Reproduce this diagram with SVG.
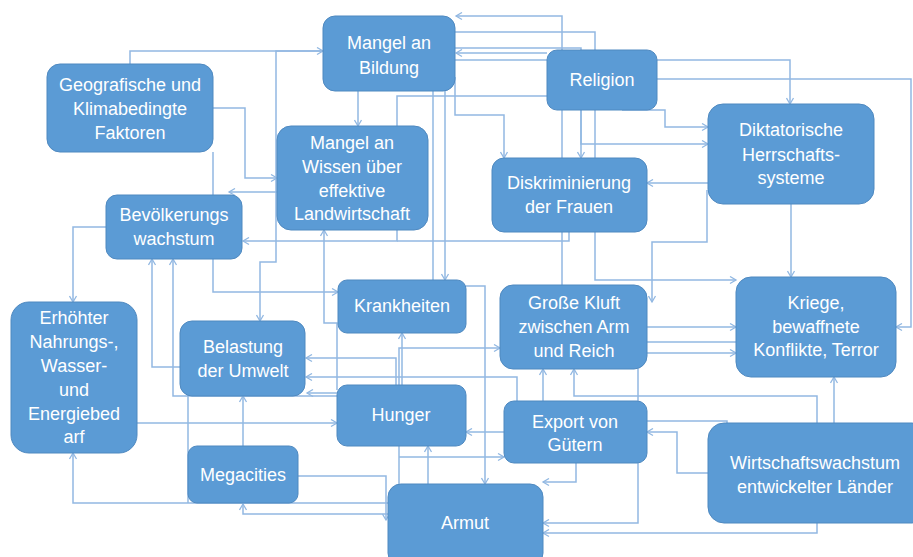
<svg xmlns="http://www.w3.org/2000/svg" width="913" height="557" viewBox="0 0 913 557">
<style>
.n{fill:#5B9BD5;stroke:#4F89C0;stroke-width:1}
.t{font-family:"Liberation Sans",Arial,sans-serif;font-size:18px;fill:#FFFFFF;text-anchor:middle}
.c{fill:none;stroke:#92B8E2;stroke-width:1.5}
.m{marker-end:url(#a)}
</style>
<defs>
<marker id="a" markerWidth="9" markerHeight="9" refX="7" refY="4.5" orient="auto" markerUnits="userSpaceOnUse">
<path d="M1,1 L7,4.5 L1,8" fill="none" stroke="#92B8E2" stroke-width="1.3"/>
</marker>
</defs>
<rect width="913" height="557" fill="#FFFFFF"/>
<g id="connectors">
<path class="c m" d="M130,64 V51 H323"/>
<path class="c m" d="M323,51 H276 V262 H260 V321"/>
<path class="c m" d="M213,108 H245 V178 H277"/>
<path class="c m" d="M213,152 V292 H338"/>
<path class="c m" d="M277,192 H229"/>
<path class="c m" d="M106,227 H73 V302"/>
<path class="c m" d="M337,390 V323 H324 V230"/>
<path class="c m" d="M358,91 V126"/>
<path class="c m" d="M445,91 V280"/>
<path class="c" d="M433,91 V280"/>
<path class="c m" d="M547,96 H397 V241 H243"/>
<path class="c" d="M569,232 V241 H397"/>
<path class="c m" d="M455,77 V115 H504 V158"/>
<path class="c m" d="M547,53 H456"/>
<path class="c" d="M455,60 H547"/>
<path class="c m" d="M455,48 H581 V144 H708"/>
<path class="c m" d="M581,110 V158"/>
<path class="c m" d="M562,285 V16 H456"/>
<path class="c m" d="M455,32 H595 V280 H736"/>
<path class="c m" d="M657,60 H790 V104"/>
<path class="c m" d="M657,79 H911 V327 H896"/>
<path class="c m" d="M622,110 H665 V127 H708"/>
<path class="c m" d="M708,183 H647"/>
<path class="c m" d="M707,190 V242 H652 V302"/>
<path class="c m" d="M791,204 V277"/>
<path class="c m" d="M466,286 H485 V484"/>
<path class="c m" d="M402,385 V333"/>
<path class="c m" d="M399,385 V348 H500"/>
<path class="c m" d="M396,385 V358 H306"/>
<path class="c m" d="M517,401 V377 H306"/>
<path class="c m" d="M337,396 H173 V259"/>
<path class="c m" d="M337,393 H307"/>
<path class="c m" d="M180,367 H152 V259"/>
<path class="c m" d="M137,423 H337"/>
<path class="c m" d="M388,503 H73 V453"/>
<path class="c" d="M188,396 V503"/>
<path class="c m" d="M243,446 V396"/>
<path class="c m" d="M298,476 H386 V520"/>
<path class="c m" d="M388,514 H243 V504"/>
<path class="c m" d="M504,432 H466"/>
<path class="c m" d="M428,484 V446"/>
<path class="c" d="M399,446 V484"/>
<path class="c m" d="M399,457 H504"/>
<path class="c m" d="M576,463 V482 H543"/>
<path class="c m" d="M638,369 V523 H543"/>
<path class="c m" d="M817,523 V533 H543"/>
<path class="c m" d="M543,401 V369"/>
<path class="c m" d="M817,423 V396 H574 V369"/>
<path class="c m" d="M834,423 V377"/>
<path class="c m" d="M708,473 H677 V432 H647"/>
<path class="c" d="M727,423 V421 H647"/>
<path class="c m" d="M647,327 H736"/>
<path class="c" d="M647,342 H736"/>
<path class="c m" d="M647,353 H736"/>
</g>
<g id="bildung"><rect class="n" x="323" y="16" width="132" height="75" rx="12"/><text class="t" x="389" y="49">Mangel an</text><text class="t" x="389" y="74">Bildung</text></g>
<g id="geografisch"><rect class="n" x="47" y="64" width="166" height="88" rx="13"/><text class="t" x="130" y="91">Geografische und</text><text class="t" x="130" y="115">Klimabedingte</text><text class="t" x="130" y="139">Faktoren</text></g>
<g id="wissen"><rect class="n" x="277" y="126" width="151" height="104" rx="14"/><text class="t" x="352" y="149">Mangel an</text><text class="t" x="352" y="173">Wissen über</text><text class="t" x="352" y="197">effektive</text><text class="t" x="352" y="220">Landwirtschaft</text></g>
<g id="bevoelkerung"><rect class="n" x="106" y="195" width="136" height="64" rx="11"/><text class="t" x="174" y="221">Bevölkerungs</text><text class="t" x="174" y="245">wachstum</text></g>
<g id="religion"><rect class="n" x="547" y="50" width="110" height="60" rx="10"/><text class="t" x="602" y="86">Religion</text></g>
<g id="diktatorisch"><rect class="n" x="708" y="104" width="166" height="100" rx="15"/><text class="t" x="791" y="136">Diktatorische</text><text class="t" x="791" y="161">Herrschafts-</text><text class="t" x="791" y="184">systeme</text></g>
<g id="diskriminierung"><rect class="n" x="492" y="158" width="155" height="74" rx="12"/><text class="t" x="569" y="189">Diskriminierung</text><text class="t" x="569" y="213">der Frauen</text></g>
<g id="erhoehter"><rect class="n" x="11" y="302" width="126" height="151" rx="18"/><text class="t" x="74" y="324">Erhöhter</text><text class="t" x="74" y="348">Nahrungs-,</text><text class="t" x="74" y="372">Wasser-</text><text class="t" x="74" y="396">und</text><text class="t" x="74" y="420">Energiebed</text><text class="t" x="74" y="443">arf</text></g>
<g id="belastung"><rect class="n" x="180" y="321" width="125" height="75" rx="12"/><text class="t" x="243" y="353">Belastung</text><text class="t" x="243" y="377">der Umwelt</text></g>
<g id="krankheiten"><rect class="n" x="338" y="280" width="128" height="53" rx="9"/><text class="t" x="402" y="312">Krankheiten</text></g>
<g id="hunger"><rect class="n" x="337" y="385" width="129" height="61" rx="10"/><text class="t" x="401" y="421">Hunger</text></g>
<g id="megacities"><rect class="n" x="188" y="446" width="110" height="57" rx="9"/><text class="t" x="243" y="481">Megacities</text></g>
<g id="armut"><rect class="n" x="388" y="484" width="155" height="82" rx="13"/><text class="t" x="465" y="529">Armut</text></g>
<g id="kluft"><rect class="n" x="500" y="285" width="147" height="84" rx="13"/><text class="t" x="574" y="309">Große Kluft</text><text class="t" x="574" y="333">zwischen Arm</text><text class="t" x="574" y="357">und Reich</text></g>
<g id="export"><rect class="n" x="504" y="401" width="143" height="62" rx="10"/><text class="t" x="575" y="428">Export von</text><text class="t" x="575" y="451">Gütern</text></g>
<g id="kriege"><rect class="n" x="736" y="277" width="160" height="100" rx="15"/><text class="t" x="816" y="309">Kriege,</text><text class="t" x="816" y="333">bewaffnete</text><text class="t" x="816" y="356">Konflikte, Terror</text></g>
<g id="wirtschaft"><rect class="n" x="708" y="423" width="220" height="100" rx="16"/><text class="t" x="815" y="469">Wirtschaftswachstum</text><text class="t" x="815" y="493">entwickelter Länder</text></g>
</svg>
